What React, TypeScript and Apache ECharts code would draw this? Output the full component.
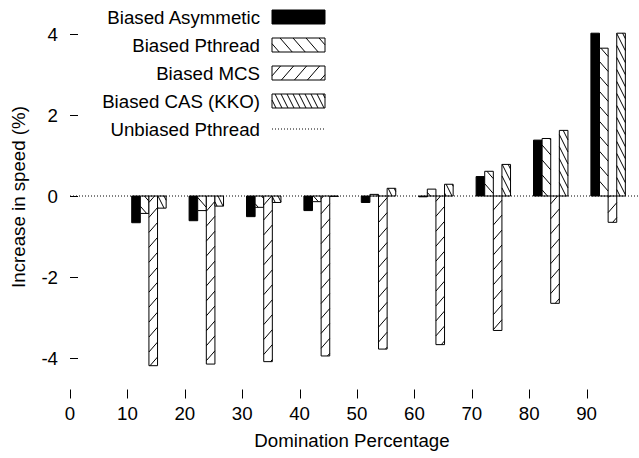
import React, { useEffect, useRef } from "react";
import * as echarts from "echarts";

// ---------- data ----------
const categories = [10, 20, 30, 40, 50, 60, 70, 80, 90];
const asymmetric = [-0.66, -0.61, -0.51, -0.36, -0.16, -0.02, 0.48, 1.38, 4.02];
const pthread = [-0.43, -0.36, -0.28, -0.14, 0.04, 0.17, 0.61, 1.42, 3.65];
const mcs = [-4.19, -4.15, -4.09, -3.95, -3.78, -3.67, -3.32, -2.65, -0.65];
const cas = [-0.3, -0.25, -0.16, -0.01, 0.19, 0.29, 0.78, 1.62, 4.02];
const xTicks = [0, 10, 20, 30, 40, 50, 60, 70, 80, 90];
const yTicks = [-4, -2, 0, 2, 4];
const unbiasedX = [0, 99];
const unbiasedY = [0, 0];
const seriesNames = ["Biased Asymmetic", "Biased Pthread", "Biased MCS", "Biased CAS (KKO)"];
const unbiasedName = "Unbiased Pthread";
const xTitle = "Domination Percentage";
const yTitle = "Increase in speed (%)";

// ---------- layout / style ----------
const W = 639;
const H = 458;
const FONT = "Liberation Sans";
const FS = 18.7;
const BAR_W = 1.5;
const BAR_OFFSET = 0.75;
const X_MIN = 0;
const X_MAX = 99;
const Y_MIN = -5;
const Y_MAX = 4.6;
const GRID_LEFT = 70;
const PX_X = 5.74;
const PX_Y = 40.5;
const ZERO_Y = 196;

type Hatch = { m: number; sx: number } | null;
const styles: { fill: string; hatch: Hatch }[] = [
  { fill: "#000", hatch: null },
  { fill: "#fff", hatch: { m: 1.15, sx: 13 } },
  { fill: "#fff", hatch: { m: -1.15, sx: 13 } },
  { fill: "#fff", hatch: { m: 2, sx: 6 } },
];
const seriesValues = [asymmetric, pthread, mcs, cas];

function hatchSegments(L: number, T: number, Wd: number, Ht: number, hatch: Hatch) {
  const segs: number[][] = [];
  if (!hatch || Wd <= 0 || Ht <= 0) return segs;
  const { m, sx } = hatch;
  const step = Math.abs(m) * sx;
  const cs = [T - m * L, T - m * (L + Wd), T + Ht - m * L, T + Ht - m * (L + Wd)];
  const cmin = Math.min(...cs);
  const cmax = Math.max(...cs);
  for (let n = Math.ceil(cmin / step); n * step <= cmax; n++) {
    const c = n * step;
    let xa = (T - c) / m;
    let xb = (T + Ht - c) / m;
    if (xa > xb) {
      const t = xa;
      xa = xb;
      xb = t;
    }
    const x1 = Math.max(xa, L);
    const x2 = Math.min(xb, L + Wd);
    if (x2 - x1 > 0.05) segs.push([x1, m * x1 + c, x2, m * x2 + c]);
  }
  return segs;
}

function boxChildren(L: number, T: number, Wd: number, Ht: number, k: number) {
  const st = styles[k];
  const children: any[] = [
    { type: "rect", shape: { x: L, y: T, width: Wd, height: Ht }, style: { fill: st.fill, stroke: "none" } },
  ];
  hatchSegments(L, T, Wd, Ht, st.hatch).forEach((s) => {
    children.push({
      type: "line",
      shape: { x1: s[0], y1: s[1], x2: s[2], y2: s[3] },
      style: { stroke: "#000", lineWidth: 1 },
    });
  });
  children.push({
    type: "rect",
    shape: { x: L, y: T, width: Wd, height: Ht },
    style: { fill: "none", stroke: "#000", lineWidth: 1 },
  });
  return children;
}

export default function App() {
  const ref = useRef<HTMLDivElement>(null);
  useEffect(() => {
    if (!ref.current) return;
    const chart = echarts.init(ref.current, null, { renderer: "svg" });

    const gridTop = ZERO_Y - Y_MAX * PX_Y;
    const gridHeight = (Y_MAX - Y_MIN) * PX_Y;
    const gridWidth = (X_MAX - X_MIN) * PX_X;

    const barSeries = seriesValues.map((vals, k) => ({
      type: "custom",
      name: seriesNames[k],
      data: categories.map((c, i) => [c + BAR_OFFSET + k * BAR_W, c + BAR_OFFSET + (k + 1) * BAR_W, vals[i]]),
      encode: { x: [0, 1], y: 2 },
      z: 2,
      renderItem: (params: any, api: any) => {
        const p0 = api.coord([api.value(0), 0]);
        const p1 = api.coord([api.value(1), api.value(2)]);
        const L = Math.min(p0[0], p1[0]);
        const R = Math.max(p0[0], p1[0]);
        const T = Math.min(p0[1], p1[1]);
        const B = Math.max(p0[1], p1[1]);
        return { type: "group", children: boxChildren(L, T, R - L, Math.max(B - T, 0.01), k) };
      },
    }));

    // x tick marks (inward from bottom border)
    const xTickSeries = {
      type: "custom",
      name: "xticks",
      data: xTicks.map((t) => [t, Y_MIN]),
      encode: { x: 0, y: 1 },
      z: 1,
      silent: true,
      renderItem: (params: any, api: any) => {
        const p = api.coord([api.value(0), api.value(1)]);
        const x = Math.round(p[0]) + 0.5;
        return {
          type: "line",
          shape: { x1: x, y1: p[1], x2: x, y2: p[1] - 9 },
          style: { stroke: "#000", lineWidth: 1 },
        };
      },
    };

    const gfx: any[] = [];
    const LX_TEXT = 260;
    const LX_BOX = 272;
    const LW_BOX = 53;
    const LH_BOX = 14;
    seriesNames.forEach((name, k) => {
      const cy = 17 + 28 * k;
      gfx.push({
        type: "text",
        x: LX_TEXT,
        y: cy,
        style: { text: name, fill: "#000", font: `${FS}px '${FONT}'`, align: "right", verticalAlign: "middle" },
      });
      gfx.push({ type: "group", children: boxChildren(LX_BOX, cy - LH_BOX / 2, LW_BOX, LH_BOX, k) });
    });
    const uy = 17 + 28 * 4;
    gfx.push({
      type: "text",
      x: LX_TEXT,
      y: uy,
      style: { text: unbiasedName, fill: "#000", font: `${FS}px '${FONT}'`, align: "right", verticalAlign: "middle" },
    });
    gfx.push({
      type: "line",
      shape: { x1: LX_BOX, y1: uy, x2: LX_BOX + LW_BOX, y2: uy },
      style: { stroke: "#000", lineWidth: 1, lineDash: [1, 2] },
    });
    gfx.push({
      type: "text",
      x: 18,
      y: 197,
      rotation: Math.PI / 2,
      style: { text: yTitle, fill: "#000", font: `${FS}px '${FONT}'`, align: "center", verticalAlign: "middle" },
    });
    gfx.push({
      type: "text",
      x: 352,
      y: 440,
      style: { text: xTitle, fill: "#000", font: `${FS}px '${FONT}'`, align: "center", verticalAlign: "middle" },
    });

    chart.setOption({
      animation: false,
      backgroundColor: "#fff",
      textStyle: { fontFamily: FONT },
      grid: { left: GRID_LEFT, top: gridTop, width: gridWidth, height: gridHeight, containLabel: false },
      xAxis: {
        type: "value",
        min: X_MIN,
        max: X_MAX,
        axisLine: { show: false },
        splitLine: { show: false },
        axisTick: { show: false },
        axisLabel: { color: "#000", fontSize: FS, fontFamily: FONT, margin: 5, customValues: xTicks },
      },
      yAxis: {
        type: "value",
        min: Y_MIN,
        max: Y_MAX,
        axisLine: { show: false },
        splitLine: { show: false },
        axisTick: { show: true, inside: true, length: 8, lineStyle: { color: "#000", width: 1 }, customValues: yTicks },
        axisLabel: { color: "#000", fontSize: FS, fontFamily: FONT, margin: 12, customValues: yTicks },
      },
      series: [
        xTickSeries,
        ...barSeries,
        {
          type: "line",
          name: unbiasedName,
          data: unbiasedX.map((x, i) => [x, unbiasedY[i]]),
          symbol: "none",
          z: 3,
          lineStyle: { color: "#000", width: 1, type: [1, 2] },
        },
      ],
      graphic: gfx,
    });
    return () => chart.dispose();
  }, []);
  return <div ref={ref} style={{ position: "absolute", left: 0, top: 0, width: W, height: H }} />;
}
